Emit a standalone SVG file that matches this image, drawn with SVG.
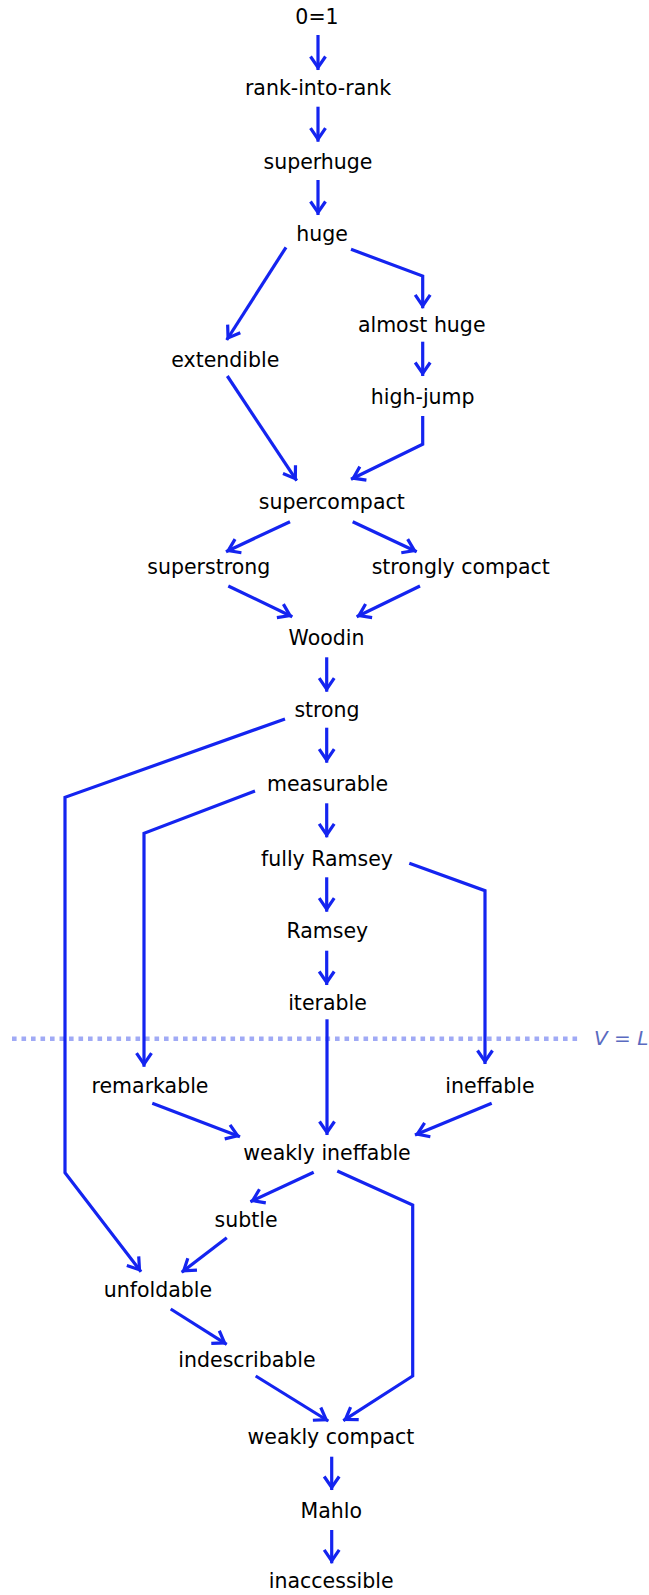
<svg xmlns="http://www.w3.org/2000/svg" width="649" height="1595" viewBox="0 0 649 1595">
<defs>
<style>
.n text{font-family:"DejaVu Sans","Liberation Sans",sans-serif;font-size:20.5px;fill:#000;text-anchor:middle}
.e path{fill:none;stroke:#1424f0;stroke-width:3.2;stroke-linejoin:miter;marker-end:url(#ah)}
.vl{font-family:"DejaVu Sans","Liberation Sans",sans-serif;font-size:20px;font-style:italic;fill:#5a6ac0}
</style>
<marker id="ah" markerUnits="userSpaceOnUse" viewBox="-16 -10 18 20" markerWidth="18" markerHeight="20" refX="0" refY="0" orient="auto">
<path d="M-13.5,-7.5 L-2.5,0 L-13.5,7.5" fill="none" stroke="#1424f0" stroke-width="3.2"/>
</marker>
</defs>
<line x1="12" y1="1038.7" x2="582" y2="1038.7" stroke="#a0aaf5" stroke-width="4.6" stroke-dasharray="4.6 4.9"/>
<text class="vl" x="594" y="1045">V = L</text>
<g class="e" id="connectors">
<path d="M318,35 V70"/>
<path d="M318,106.7 V141.7"/>
<path d="M318,180 V215"/>
<path d="M286,247.3 L226.7,340"/>
<path d="M351,249.3 L422.7,276 V308.3"/>
<path d="M422.7,341.7 V376"/>
<path d="M422.7,416 V444.3 L351,479.3"/>
<path d="M227.3,376 L296.7,480.7"/>
<path d="M290,521.7 L226,551.7"/>
<path d="M352.7,521.7 L416.7,551.7"/>
<path d="M228.3,586 L292.3,616.7"/>
<path d="M420,586 L356.7,616.7"/>
<path d="M326.7,657.3 V691.7"/>
<path d="M326.7,727.7 V762.7"/>
<path d="M285,719 L65,797.3 V1172.7 L141,1271.7"/>
<path d="M255,791 L144,833.3 V1066.7"/>
<path d="M326.7,803.3 V837.3"/>
<path d="M409.3,863.3 L485,890.7 V1064"/>
<path d="M326.7,877.3 V911.7"/>
<path d="M326.7,950.7 V985"/>
<path d="M327,1019.3 V1135"/>
<path d="M152.3,1103.3 L240,1136.7"/>
<path d="M491.7,1103.3 L415,1135"/>
<path d="M313.7,1172.3 L250.4,1201.7"/>
<path d="M337.3,1171 L412.7,1205 V1376 L343.3,1420.7"/>
<path d="M226.8,1237.7 L181.7,1272.3"/>
<path d="M170.7,1309 L226.7,1344.3"/>
<path d="M255.7,1376 L328.3,1421"/>
<path d="M331.7,1456.7 V1490"/>
<path d="M331.7,1530 V1563.3"/>
</g>
<g class="n" id="n-zero"><text x="317" y="24">0=1</text></g>
<g class="n" id="n-rank"><text x="318" y="95">rank-into-rank</text></g>
<g class="n" id="n-superhuge"><text x="318" y="169">superhuge</text></g>
<g class="n" id="n-huge"><text x="322" y="240.5">huge</text></g>
<g class="n" id="n-extendible"><text x="225.3" y="366.5">extendible</text></g>
<g class="n" id="n-almosthuge"><text x="421.7" y="331.5">almost huge</text></g>
<g class="n" id="n-highjump"><text x="422.7" y="403.5">high-jump</text></g>
<g class="n" id="n-supercompact"><text x="331.8" y="509">supercompact</text></g>
<g class="n" id="n-superstrong"><text x="208.8" y="574">superstrong</text></g>
<g class="n" id="n-stronglycompact"><text x="460.8" y="574">strongly compact</text></g>
<g class="n" id="n-woodin"><text x="326.5" y="645">Woodin</text></g>
<g class="n" id="n-strong"><text x="327" y="716.5">strong</text></g>
<g class="n" id="n-measurable"><text x="327.5" y="790.5">measurable</text></g>
<g class="n" id="n-fullyramsey"><text x="327" y="865.5">fully Ramsey</text></g>
<g class="n" id="n-ramsey"><text x="327.3" y="938.3">Ramsey</text></g>
<g class="n" id="n-iterable"><text x="327.5" y="1010">iterable</text></g>
<g class="n" id="n-remarkable"><text x="150" y="1092.5">remarkable</text></g>
<g class="n" id="n-ineffable"><text x="490" y="1092.5">ineffable</text></g>
<g class="n" id="n-weaklyineffable"><text x="327" y="1160">weakly ineffable</text></g>
<g class="n" id="n-subtle"><text x="246" y="1227.3">subtle</text></g>
<g class="n" id="n-unfoldable"><text x="158" y="1297.3">unfoldable</text></g>
<g class="n" id="n-indescribable"><text x="247" y="1367.3">indescribable</text></g>
<g class="n" id="n-weaklycompact"><text x="331" y="1444">weakly compact</text></g>
<g class="n" id="n-mahlo"><text x="331.3" y="1518.3">Mahlo</text></g>
<g class="n" id="n-inaccessible"><text x="331.2" y="1588.3">inaccessible</text></g>
</svg>
